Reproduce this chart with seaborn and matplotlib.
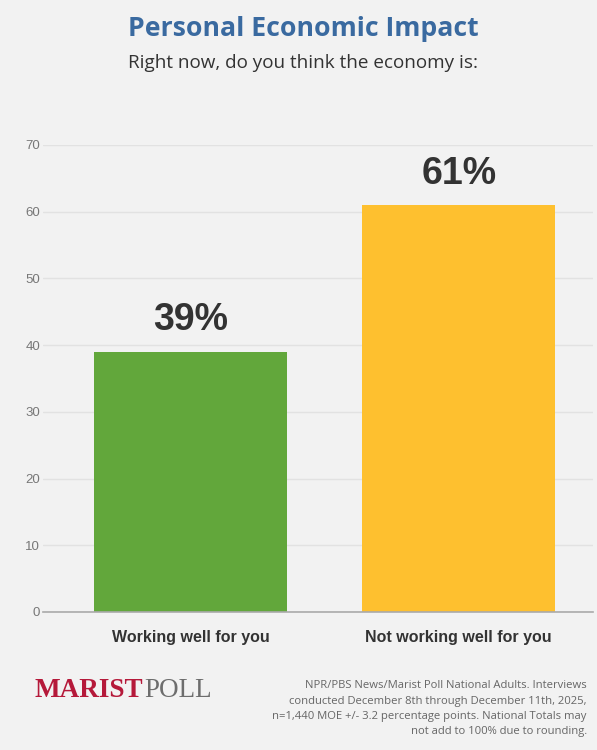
import matplotlib
matplotlib.use("Agg")
import matplotlib.pyplot as plt
import seaborn as sns
import pandas as pd

categories = ["Working well for you", "Not working well for you"]
values = [39, 61]
bar_colors = ["#62a73b", "#fec02f"]
y_ticks = [0, 10, 20, 30, 40, 50, 60, 70]

title = "Personal Economic Impact"
subtitle = "Right now, do you think the economy is:"
note = ("NPR/PBS News/Marist Poll National Adults. Interviews\n"
        "conducted December 8th through December 11th, 2025,\n"
        "n=1,440 MOE +/- 3.2 percentage points. National Totals may\n"
        "not add to 100% due to rounding.")

df = pd.DataFrame({"cat": categories, "val": values})

sns.set_style("white")
plt.rcParams["font.family"] = ["Liberation Sans", "DejaVu Sans"]

bg = "#f2f2f2"
fig = plt.figure(figsize=(5.97, 7.5), dpi=100, facecolor=bg)
ax = fig.add_axes([0.072, 0.184, 0.921, 0.6227], facecolor=bg)

sns.barplot(data=df, x="cat", y="val", hue="cat", palette=bar_colors,
            width=0.72, legend=False, ax=ax, saturation=1, zorder=3,
            edgecolor="none", linewidth=0)

for i, v in enumerate(values):
    ax.text(i, v + 2.0, f"{v}%", ha="center", va="bottom", fontsize=27,
            fontweight="bold", color="#333333")

ax.set_xlim(-0.55, 1.5)
ax.set_ylim(0, 70)
ax.set_yticks(y_ticks)
ax.grid(axis="y", color="#e2e2e2", linewidth=1, zorder=0)
ax.set_axisbelow(True)
for s in ["top", "right", "left"]:
    ax.spines[s].set_visible(False)
ax.spines["bottom"].set_color("#aaaaaa")
ax.spines["bottom"].set_linewidth(1.2)
ax.spines["bottom"].set_zorder(4)
ax.tick_params(axis="y", length=0, labelsize=9.5, labelcolor="#777777", pad=2)
ax.tick_params(axis="x", length=0, labelsize=11.5, labelcolor="#333333", pad=13)
for lbl in ax.get_xticklabels():
    lbl.set_fontweight("bold")
ax.set_xlabel("")
ax.set_ylabel("")

fig.text(0.508, 0.962, title, ha="center", va="center", fontsize=19.2,
         fontweight="bold", color="#3a6aa0", family=["Open Sans", "DejaVu Sans"])
fig.text(0.508, 0.916, subtitle, ha="center", va="center", fontsize=13.6,
         color="#333333", family=["Open Sans", "DejaVu Sans"])

fig.text(0.983, 0.055, note, ha="right", va="center", fontsize=8.15,
         color="#666666", linespacing=1.53, family=["Open Sans", "DejaVu Sans"])

t1 = fig.text(0.057, 0.079, "MARIST", ha="left", va="center", fontsize=19.5,
              fontweight="bold", color="#b5193a",
              family=["Liberation Serif", "DejaVu Serif"])
fig.canvas.draw()
bb = t1.get_window_extent()
x2 = (bb.x1 + 2) / fig.bbox.width
fig.text(x2, 0.079, "POLL", ha="left", va="center", fontsize=19.5,
         color="#6d6d6d", family=["Liberation Serif", "DejaVu Serif"])

fig.savefig("out.png", dpi=100, facecolor=bg)
